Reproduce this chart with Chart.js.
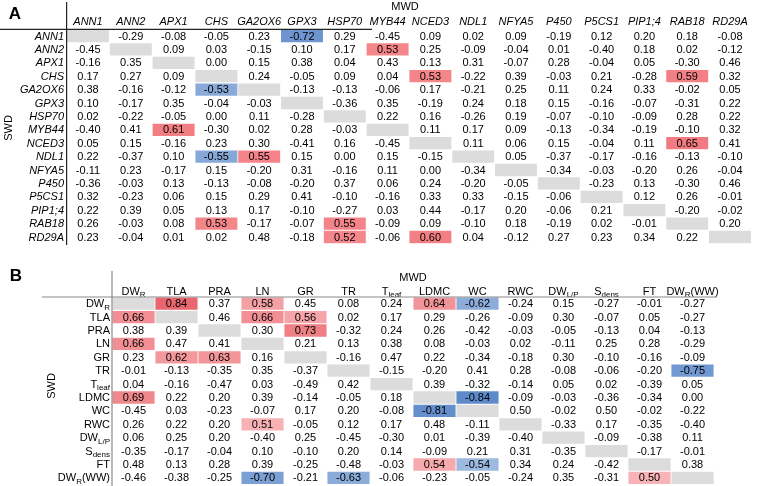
<!DOCTYPE html>
<html>
<head>
<meta charset="utf-8">
<script src="https://cdn.jsdelivr.net/npm/chart.js@4.4.1/dist/chart.umd.min.js"></script>
<style>
  body { margin: 0; background: #fff; }
  #wrap { position: relative; width: 759px; height: 486px; }
  canvas { position: absolute; left: 0; }
</style>
</head>
<body>
<div id="wrap">
  <canvas id="chartA" width="759" height="248" style="top:0"></canvas>
  <canvas id="chartB" width="759" height="238" style="top:248px"></canvas>
</div>
<script>
// ---- panel A: gene expression correlations (rows SWD, cols MWD)
const genes = ['ANN1', 'ANN2', 'APX1', 'CHS', 'GA2OX6', 'GPX3', 'HSP70', 'MYB44',
  'NCED3', 'NDL1', 'NFYA5', 'P450', 'P5CS1', 'PIP1;4', 'RAB18', 'RD29A'];
const corrA = [
  [null, -0.29, -0.08, -0.05, 0.23, -0.72, 0.29, -0.45, 0.09, 0.02, 0.09, -0.19, 0.12, 0.20, 0.18, -0.08],
  [-0.45, null, 0.09, 0.03, -0.15, 0.10, 0.17, 0.53, 0.25, -0.09, -0.04, 0.01, -0.40, 0.18, 0.02, -0.12],
  [-0.16, 0.35, null, 0.00, 0.15, 0.38, 0.04, 0.43, 0.13, 0.31, -0.07, 0.28, -0.04, 0.05, -0.30, 0.46],
  [0.17, 0.27, 0.09, null, 0.24, -0.05, 0.09, 0.04, 0.53, -0.22, 0.39, -0.03, 0.21, -0.28, 0.59, 0.32],
  [0.38, -0.16, -0.12, -0.53, null, -0.13, -0.13, -0.06, 0.17, -0.21, 0.25, 0.11, 0.24, 0.33, -0.02, 0.05],
  [0.10, -0.17, 0.35, -0.04, -0.03, null, -0.36, 0.35, -0.19, 0.24, 0.18, 0.15, -0.16, -0.07, -0.31, 0.22],
  [0.02, -0.22, -0.05, 0.00, 0.11, -0.28, null, 0.22, 0.16, -0.26, 0.19, -0.07, -0.10, -0.09, 0.28, 0.22],
  [-0.40, 0.41, 0.61, -0.30, 0.02, 0.28, -0.03, null, 0.11, 0.17, 0.09, -0.13, -0.34, -0.19, -0.10, 0.32],
  [0.05, 0.15, -0.16, 0.23, 0.30, -0.41, 0.16, -0.45, null, 0.11, 0.06, 0.15, -0.04, 0.11, 0.65, 0.41],
  [0.22, -0.37, 0.10, -0.55, 0.55, 0.15, 0.00, 0.15, -0.15, null, 0.05, -0.37, -0.17, -0.16, -0.13, -0.10],
  [-0.11, 0.23, -0.17, 0.15, -0.20, 0.31, -0.16, 0.11, 0.00, -0.34, null, -0.34, -0.03, -0.20, 0.26, -0.04],
  [-0.36, -0.03, 0.13, -0.13, -0.08, -0.20, 0.37, 0.06, 0.24, -0.20, -0.05, null, -0.23, 0.13, -0.30, 0.46],
  [0.32, -0.23, 0.06, 0.15, 0.29, 0.41, -0.10, -0.16, 0.33, 0.33, -0.15, -0.06, null, 0.12, 0.26, -0.01],
  [0.22, 0.39, 0.05, 0.13, 0.17, -0.10, -0.27, 0.03, 0.44, -0.17, 0.20, -0.06, 0.21, null, -0.20, -0.02],
  [0.26, -0.03, 0.08, 0.53, -0.17, -0.07, 0.55, -0.09, 0.09, -0.10, 0.18, -0.19, 0.02, -0.01, null, 0.20],
  [0.23, -0.04, 0.01, 0.02, 0.48, -0.18, 0.52, -0.06, 0.60, 0.04, -0.12, 0.27, 0.23, 0.34, 0.22, null]
];

// ---- panel B: trait correlations
const traits = ['DW_R', 'TLA', 'PRA', 'LN', 'GR', 'TR', 'T_leaf', 'LDMC', 'WC', 'RWC',
  'DW_L/P', 'S_dens', 'FT', 'DW_R(WW)'];
const corrB = [
  [null, 0.84, 0.37, 0.58, 0.45, 0.08, 0.24, 0.64, -0.62, -0.24, 0.15, -0.27, -0.01, -0.27],
  [0.66, null, 0.46, 0.66, 0.56, 0.02, 0.17, 0.29, -0.26, -0.09, 0.30, -0.07, 0.05, -0.27],
  [0.38, 0.39, null, 0.30, 0.73, -0.32, 0.24, 0.26, -0.42, -0.03, -0.05, -0.13, 0.04, -0.13],
  [0.66, 0.47, 0.41, null, 0.21, 0.13, 0.38, 0.08, -0.03, 0.02, -0.11, 0.25, 0.28, -0.29],
  [0.23, 0.62, 0.63, 0.16, null, -0.16, 0.47, 0.22, -0.34, -0.18, 0.30, -0.10, -0.16, -0.09],
  [-0.01, -0.13, -0.35, 0.35, -0.37, null, -0.15, -0.20, 0.41, 0.28, -0.08, -0.06, -0.20, -0.75],
  [0.04, -0.16, -0.47, 0.03, -0.49, 0.42, null, 0.39, -0.32, -0.14, 0.05, 0.02, -0.39, 0.05],
  [0.69, 0.22, 0.20, 0.39, -0.14, -0.05, 0.18, null, -0.84, -0.09, -0.03, -0.36, -0.34, 0.00],
  [-0.45, 0.03, -0.23, -0.07, 0.17, 0.20, -0.08, -0.81, null, 0.50, -0.02, 0.50, -0.02, -0.22],
  [0.26, 0.22, 0.20, 0.51, -0.05, 0.12, 0.17, 0.48, -0.11, null, -0.33, 0.17, -0.35, -0.40],
  [0.06, 0.25, 0.20, -0.40, 0.25, -0.45, -0.30, 0.01, -0.39, -0.40, null, -0.09, -0.38, 0.11],
  [-0.35, -0.17, -0.04, 0.10, -0.10, 0.20, 0.14, -0.09, 0.21, 0.31, -0.35, null, -0.17, -0.01],
  [0.48, 0.13, 0.28, 0.39, -0.25, -0.48, -0.03, 0.54, -0.54, 0.34, 0.24, -0.42, null, 0.38],
  [-0.46, -0.38, -0.25, -0.70, -0.21, -0.63, -0.06, -0.23, -0.05, -0.24, 0.35, -0.31, 0.50, null]
];
// 0.50 cells that are shaded in the original (rounding hides the difference)
const markedB = [['DW_R(WW)', 'FT']];

const FONT = '"Liberation Sans", Arial, sans-serif';

function mix(c1, c2, t) {
  const a = c1.match(/\w\w/g).map(h => parseInt(h, 16));
  const b = c2.match(/\w\w/g).map(h => parseInt(h, 16));
  return 'rgb(' + a.map((v, i) => Math.round(v + (b[i] - v) * t)).join(',') + ')';
}

// draws "DW_R(WW)" style labels with a subscript part
function drawLabel(ctx, label, x, y, align, size, italic) {
  const base = (italic ? 'italic ' : '') + size + 'px ' + FONT;
  const m = label.match(/^([^_]*)_([^()]+)(.*)$/);
  ctx.textBaseline = 'middle';
  if (!m) {
    ctx.font = base;
    ctx.textAlign = align;
    ctx.fillText(label, x, y);
    return;
  }
  const subFont = Math.round(size * 0.72) + 'px ' + FONT;
  ctx.font = base;
  const w1 = ctx.measureText(m[1]).width, w3 = ctx.measureText(m[3]).width;
  ctx.font = subFont;
  const w2 = ctx.measureText(m[2]).width;
  const total = w1 + w2 + w3;
  let sx = align === 'right' ? x - total : align === 'center' ? x - total / 2 : x;
  ctx.textAlign = 'left';
  ctx.font = base;
  ctx.fillText(m[1], sx, y);
  ctx.font = subFont;
  ctx.fillText(m[2], sx + w1, y + size * 0.3);
  ctx.font = base;
  ctx.fillText(m[3], sx + w1 + w2, y);
}

function makePanel(canvasId, panel) {
  const n = panel.labels.length;
  const isMarked = (i, j) => {
    const v = panel.values[i][j];
    if (v === null) return true;
    if (Math.abs(v) > 0.5) return true;
    return panel.marked.some(([r, c]) => r === panel.labels[i] && c === panel.labels[j]);
  };
  const cellColor = v => {
    if (v === null) return '#dcdcdc';
    const t = Math.max(0, Math.min(1, (Math.abs(v) - panel.lo) / (panel.hi - panel.lo)));
    return v > 0 ? mix(panel.red[0], panel.red[1], t) : mix(panel.blue[0], panel.blue[1], t);
  };

  const datasets = panel.labels.map((row, i) => ({
    label: row,
    data: panel.labels.map((col, j) => isMarked(i, j)
      ? { x: col, y: [i - 0.46, i + 0.46], v: panel.values[i][j] }
      : { x: col, y: null, v: panel.values[i][j] }),
    backgroundColor: ctx => cellColor(ctx.raw ? ctx.raw.v : 0),
    borderWidth: 0,
    grouped: false,
    categoryPercentage: 1,
    barPercentage: 0.98
  }));

  const tablePlugin = {
    id: 'table' + canvasId,
    afterDatasetsDraw(chart) {
      const { ctx, scales: { x, y } } = chart;
      const off = panel.top;
      ctx.save();
      ctx.fillStyle = '#000';
      // values
      ctx.font = '11px ' + FONT;
      ctx.textAlign = 'center';
      ctx.textBaseline = 'middle';
      panel.values.forEach((row, i) => row.forEach((v, j) => {
        if (v === null) return;
        ctx.fillText(v.toFixed(2), x.getPixelForValue(j), y.getPixelForValue(i) + 0.5);
      }));
      // column headers and row labels
      panel.labels.forEach((lab, k) => {
        drawLabel(ctx, lab, x.getPixelForValue(k), panel.headerY - off, 'center', 11, panel.italic);
        drawLabel(ctx, lab, panel.rowLabelX, y.getPixelForValue(k) + 0.5, 'right', 11, panel.italic);
      });
      // rules
      ctx.strokeStyle = panel.lineColor;
      ctx.lineWidth = 1.2;
      ctx.beginPath();
      ctx.moveTo(panel.hLine[0], chart.chartArea.top);
      ctx.lineTo(panel.hLine[1], chart.chartArea.top);
      ctx.moveTo(chart.chartArea.left, panel.vLineTop - off);
      ctx.lineTo(chart.chartArea.left, panel.vLineBottom - off);
      ctx.stroke();
      // titles
      ctx.font = '11px ' + FONT;
      ctx.textAlign = 'center';
      ctx.fillText('MWD', panel.mwd[0], panel.mwd[1] - off);
      ctx.translate(panel.swd[0], panel.swd[1] - off);
      ctx.rotate(-Math.PI / 2);
      ctx.fillText('SWD', 0, 0);
      ctx.setTransform(1, 0, 0, 1, 0, 0);
      ctx.font = 'bold 17px ' + FONT;
      ctx.fillText(panel.letter, panel.letterPos[0], panel.letterPos[1] - off);
      ctx.restore();
    }
  };

  return new Chart(document.getElementById(canvasId), {
    type: 'bar',
    data: { labels: panel.labels, datasets },
    options: {
      responsive: false,
      animation: false,
      indexAxis: 'x',
      layout: { padding: panel.padding },
      plugins: { legend: { display: false }, tooltip: { enabled: false } },
      scales: {
        x: { type: 'category', display: false, offset: true },
        y: { type: 'linear', display: false, reverse: true, min: -0.5, max: n - 0.5 }
      }
    },
    plugins: [tablePlugin]
  });
}

makePanel('chartA', {
  labels: genes, values: corrA, marked: [], italic: true, top: 0,
  padding: { left: 66.6, right: 7.6, top: 29.3, bottom: 4.3 },
  lo: 0.5, hi: 0.75,
  red: ['f5898d', 'ee7177'], blue: ['8dadda', '6a92cd'],
  headerY: 21.5, rowLabelX: 64, lineColor: '#222',
  hLine: [0, 372], vLineTop: 2, vLineBottom: 245,
  mwd: [405, 7], swd: [9, 128], letter: 'A', letterPos: [15, 14]
});

makePanel('chartB', {
  labels: traits, values: corrB, marked: markedB, italic: false, top: 248,
  padding: { left: 112, right: 45, top: 49, bottom: 1.4 },
  lo: 0.5, hi: 0.85,
  red: ['f8b3b6', 'e8646b'], blue: ['a7bfe3', '5c88c9'],
  headerY: 291.5, rowLabelX: 110, lineColor: '#8a8a8a',
  hLine: [42, 717], vLineTop: 271, vLineBottom: 486,
  mwd: [413, 278], swd: [52, 386], letter: 'B', letterPos: [16, 276]
});
</script>
</body>
</html>
